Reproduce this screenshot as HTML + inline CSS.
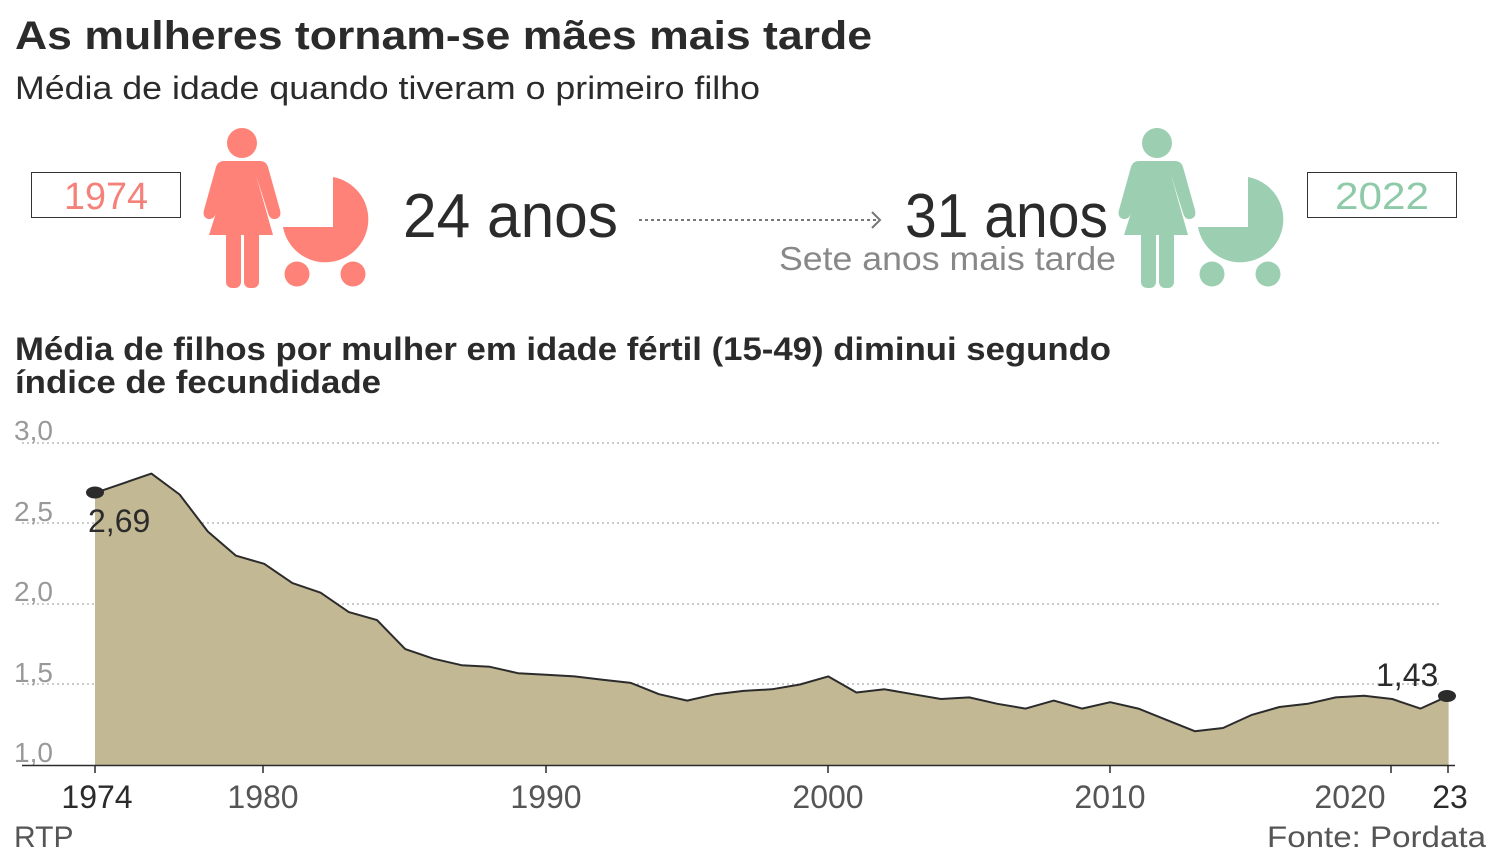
<!DOCTYPE html>
<html><head><meta charset="utf-8"><style>
html,body{margin:0;padding:0;background:#fff;}
svg{display:block;font-family:"Liberation Sans",sans-serif;}
</style></head><body>
<svg width="1500" height="860" viewBox="0 0 1500 860" xmlns="http://www.w3.org/2000/svg">
<text x="15" y="49" font-size="40" font-weight="bold" fill="#2b2b2b" textLength="857" lengthAdjust="spacingAndGlyphs">As mulheres tornam-se mães mais tarde</text>
<text x="15" y="99" font-size="32" fill="#2b2b2b" textLength="745" lengthAdjust="spacingAndGlyphs">Média de idade quando tiveram o primeiro filho</text>

<rect x="31.5" y="172.5" width="149" height="45" fill="none" stroke="#333" stroke-width="1"/>
<text x="106" y="209" font-size="38" fill="#f4827a" text-anchor="middle" textLength="84" lengthAdjust="spacingAndGlyphs">1974</text>
<rect x="1307.5" y="172.5" width="149" height="45" fill="none" stroke="#333" stroke-width="1"/>
<text x="1382" y="209" font-size="38" fill="#8fcaa8" text-anchor="middle" textLength="94" lengthAdjust="spacingAndGlyphs">2022</text>

<defs>
<g id="icon">
<circle cx="242" cy="143" r="15"/>
<path d="M224,161 L260,161 Q266,161 268,167 L280,210 Q282,218 275,219 Q270,220 268,213 L256,175 L273,235 L209,235 L228,175 L216,213 Q214,220 208,219 Q202,217 204,210 L216,167 Q218,161 224,161 Z"/>
<rect x="226" y="230" width="15" height="58" rx="6"/>
<rect x="244" y="230" width="15" height="58" rx="6"/>
<path d="M333,177 A43,43 0 1 1 283,227 L333,227 Z"/>
<circle cx="297" cy="274" r="12.5"/>
<circle cx="353" cy="274" r="12.5"/>
</g>
</defs>
<use href="#icon" fill="#ff8278"/>
<use href="#icon" fill="#9ccfb1" transform="translate(915,0)"/>

<text x="403" y="237" font-size="62" fill="#2b2b2b" textLength="215" lengthAdjust="spacingAndGlyphs">24 anos</text>
<text x="905" y="237" font-size="62" fill="#2b2b2b" textLength="203" lengthAdjust="spacingAndGlyphs">31 anos</text>
<text x="779" y="270" font-size="33" fill="#888" textLength="337" lengthAdjust="spacingAndGlyphs">Sete anos mais tarde</text>
<line x1="639" y1="220" x2="878" y2="220" stroke="#777" stroke-width="2" stroke-dasharray="3,3"/>
<path d="M872,212 L880,220 L872,228" fill="none" stroke="#777" stroke-width="2"/>

<text x="15" y="360" font-size="32" font-weight="bold" fill="#2b2b2b" textLength="1096" lengthAdjust="spacingAndGlyphs">Média de filhos por mulher em idade fértil (15-49) diminui segundo</text>
<text x="15" y="393" font-size="32" font-weight="bold" fill="#2b2b2b" textLength="366" lengthAdjust="spacingAndGlyphs">índice de fecundidade</text>

<g stroke="#aaa" stroke-width="1.3" stroke-dasharray="2,3">
<line x1="22" y1="443" x2="1440" y2="443"/>
<line x1="22" y1="523" x2="1440" y2="523"/>
<line x1="22" y1="604" x2="1440" y2="604"/>
<line x1="22" y1="684" x2="1440" y2="684"/>
</g>
<g font-size="28" fill="#999">
<text x="14" y="440">3,0</text>
<text x="14" y="521">2,5</text>
<text x="14" y="601">2,0</text>
<text x="14" y="682">1,5</text>
<text x="14" y="762">1,0</text>
</g>

<polygon fill="#c2b894" points="95,765 95,492.9 123.2,483.3 151.4,473.6 179.6,494.5 207.8,531.5 236,555.7 264.2,563.8 292.4,583.1 320.6,592.7 348.8,612.1 377,620.1 405.2,649.1 433.4,658.7 461.6,665.2 489.8,666.8 518,673.2 546.2,674.8 574.4,676.4 602.6,679.7 630.8,682.9 659,694.2 687.2,700.6 715.4,694.2 743.6,690.9 771.8,689.3 800,684.5 828.2,676.4 856.4,692.5 884.6,689.3 912.8,694.2 941,699 969.2,697.4 997.4,703.8 1025.6,708.6 1053.8,700.6 1082,708.6 1110.2,702.2 1138.4,708.6 1166.6,719.9 1194.8,731.2 1223,728 1251.2,715.1 1279.4,707 1307.6,703.8 1335.8,697.4 1364,695.8 1392.2,699 1420.4,708.6 1448.6,695.8 1448.6,765"/>
<polyline fill="none" stroke="#2b2b2b" stroke-width="2" stroke-linejoin="round" points="95,492.9 123.2,483.3 151.4,473.6 179.6,494.5 207.8,531.5 236,555.7 264.2,563.8 292.4,583.1 320.6,592.7 348.8,612.1 377,620.1 405.2,649.1 433.4,658.7 461.6,665.2 489.8,666.8 518,673.2 546.2,674.8 574.4,676.4 602.6,679.7 630.8,682.9 659,694.2 687.2,700.6 715.4,694.2 743.6,690.9 771.8,689.3 800,684.5 828.2,676.4 856.4,692.5 884.6,689.3 912.8,694.2 941,699 969.2,697.4 997.4,703.8 1025.6,708.6 1053.8,700.6 1082,708.6 1110.2,702.2 1138.4,708.6 1166.6,719.9 1194.8,731.2 1223,728 1251.2,715.1 1279.4,707 1307.6,703.8 1335.8,697.4 1364,695.8 1392.2,699 1420.4,708.6 1448.6,695.8"/>
<line x1="22" y1="765.5" x2="1455" y2="765.5" stroke="#2b2b2b" stroke-width="1.5"/>
<ellipse cx="95" cy="492.5" rx="9" ry="6" fill="#2b2b2b"/>
<ellipse cx="1447" cy="696" rx="9" ry="6" fill="#2b2b2b"/>
<text x="88" y="532" font-size="32" fill="#2b2b2b">2,69</text>
<text x="1376" y="686" font-size="32" fill="#2b2b2b">1,43</text>

<g stroke="#2b2b2b" stroke-width="1.5">
<line x1="95" y1="765" x2="95" y2="773"/>
<line x1="263" y1="765" x2="263" y2="773"/>
<line x1="546" y1="765" x2="546" y2="773"/>
<line x1="828" y1="765" x2="828" y2="773"/>
<line x1="1110" y1="765" x2="1110" y2="773"/>
<line x1="1391" y1="765" x2="1391" y2="773"/>
<line x1="1448" y1="765" x2="1448" y2="773"/>
</g>
<g font-size="32" text-anchor="middle">
<text x="97" y="808" fill="#2b2b2b">1974</text>
<text x="263" y="808" fill="#555">1980</text>
<text x="546" y="808" fill="#555">1990</text>
<text x="828" y="808" fill="#555">2000</text>
<text x="1110" y="808" fill="#555">2010</text>
<text x="1350" y="808" fill="#555">2020</text>
<text x="1450" y="808" fill="#2b2b2b">23</text>
</g>
<text x="14" y="847" font-size="30" fill="#555">RTP</text>
<text x="1267" y="847" font-size="30" fill="#555" textLength="219" lengthAdjust="spacingAndGlyphs">Fonte: Pordata</text>
</svg>
</body></html>
